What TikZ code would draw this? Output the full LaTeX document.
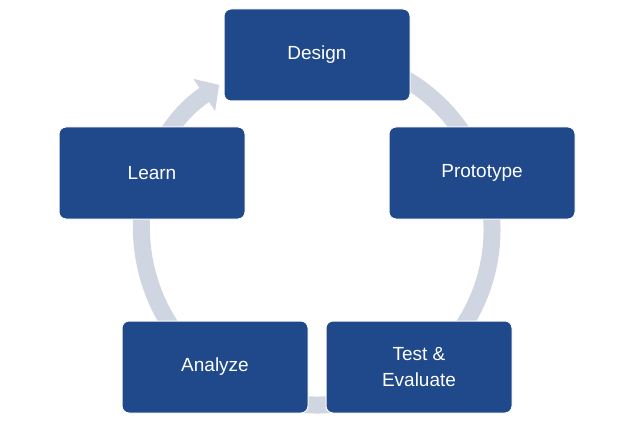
\documentclass[tikz,border=0pt]{standalone}
\usepackage{fontspec}
\setmainfont{Liberation Sans}
\usetikzlibrary{arrows.meta}
\definecolor{boxblue}{RGB}{31, 73, 138}
\definecolor{ringgray}{RGB}{208, 213, 226}

\begin{document}
\begin{tikzpicture}[x=1pt, y=1pt,
  stagebox/.style={draw=white, line width=1pt, fill=boxblue, rounded corners=7pt,
    minimum width=186pt, minimum height=92pt, text=white, align=center,
    font=\fontsize{19}{26}\selectfont}]

  \useasboundingbox (0, 0) rectangle (635, 424);

  % ring behind the boxes
  \draw[ringgray, line width=17pt, -{Triangle[length=18pt, width=38pt]}]
    (317, 194) ++(480:175) arc (480:124:175);

  \node[stagebox] (design) at (317, 369) {Design};
  \node[stagebox] (proto) at (482, 251) {Prototype};
  \node[stagebox] (test) at (419, 57) {Test \&\\Evaluate};
  \node[stagebox] (analyze) at (215, 57) {Analyze};
  \node[stagebox] (learn) at (152, 251) {Learn};

\end{tikzpicture}
\end{document}
